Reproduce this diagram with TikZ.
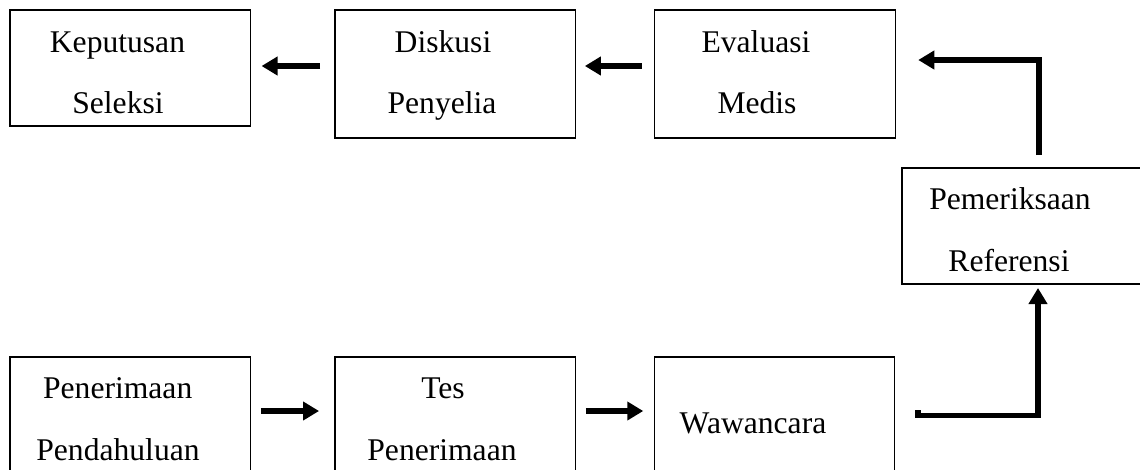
\documentclass[tikz,border=0pt]{standalone}
\usepackage{fontspec}
\setmainfont{Liberation Serif}
\usetikzlibrary{arrows.meta,calc}
\begin{document}
\begin{tikzpicture}[x=1pt,y=-1pt,
  box/.style={draw, line width=1.4pt, inner sep=0pt, outer sep=0pt, minimum width=240.5pt},
  lbl/.style={anchor=base, inner sep=0pt, font=\fontsize{31.6}{38}\selectfont},
  arr/.style={line width=6pt, -{Triangle[length=16pt,width=18pt]}},
  elb/.style={line width=5.5pt, -{Triangle[length=16pt,width=18pt]}}]
\clip (0,0) rectangle (1140,469);
% boxes
\node[box, minimum height=116pt] (b1) at (130.3,68) {};
\node[box, minimum height=128pt] (b2) at (455.3,74) {};
\node[box, minimum height=128pt] (b3) at (775,74) {};
\node[box, minimum width=258pt, minimum height=116pt] (b4) at (1031,226) {};
\node[box, minimum height=143pt] (b5) at (130.3,428.5) {};
\node[box, minimum height=143pt] (b6) at (455.3,428.5) {};
\node[box, minimum height=143pt] (b7) at (774.5,428.5) {};
% labels
\node[lbl] (t1a) at (117.5,52) {Keputusan};
\node[lbl] (t1b) at (118,113) {Seleksi};
\node[lbl] (t2a) at (443,52) {Diskusi};
\node[lbl] (t2b) at (442,113) {Penyelia};
\node[lbl] (t3a) at (756,52) {Evaluasi};
\node[lbl] (t3b) at (757,113) {Medis};
\node[lbl] (t4a) at (1010,209) {Pemeriksaan};
\node[lbl] (t4b) at (1009,271) {Referensi};
\node[lbl] (t5a) at (117.7,398) {Penerimaan};
\node[lbl] (t5b) at (118,460) {Pendahuluan};
\node[lbl] (t6a) at (443,398) {Tes};
\node[lbl] (t6b) at (442,460) {Penerimaan};
\node[lbl] (t7a) at (753,433) {Wawancara};
% connectors
\draw[arr] ($(b2.west)+(-15,-8)$) -- ($(b1.east)+(11,-2)$);
\draw[arr] ($(b3.west)+(-13,-8)$) -- ($(b2.east)+(9.3,-8)$);
\draw[elb] ($(b4.north)+(8,-13)$) |- ($(b3.east)+(23,-14)$);
\draw[arr] ($(b5.east)+(10.3,-17.5)$) -- ($(b6.west)+(-16,-17.5)$);
\draw[arr] ($(b6.east)+(10.3,-17.5)$) -- ($(b7.west)+(-11,-17.5)$);
\draw[elb] ($(b7.east)+(23,-18.5)$) -- ++(0,5.5) -| ($(b4.south)+(7,4)$);
\end{tikzpicture}
\end{document}
